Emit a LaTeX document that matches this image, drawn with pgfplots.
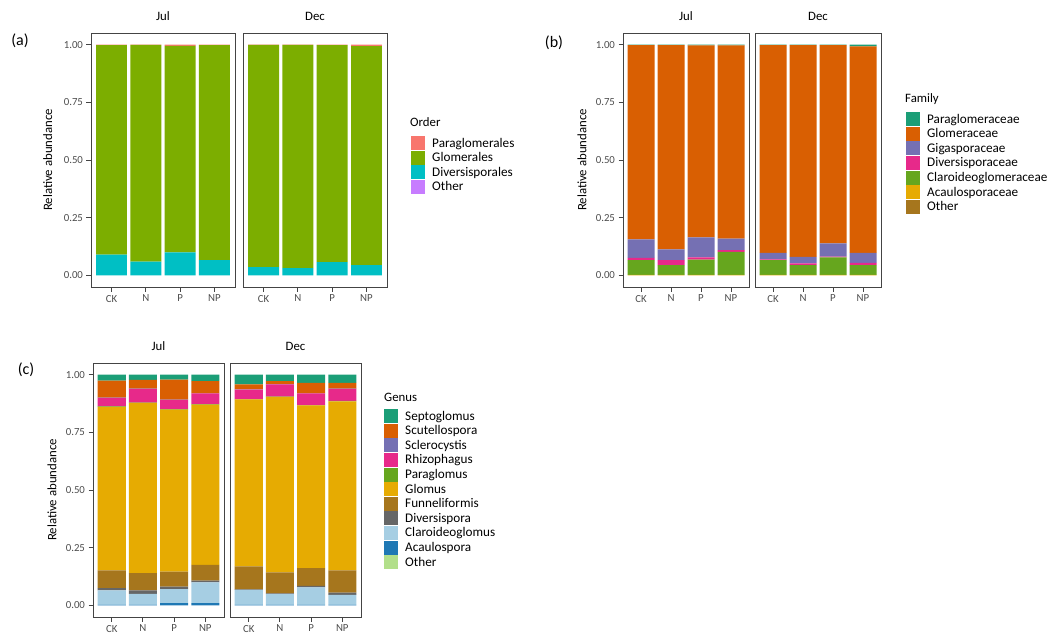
\documentclass[border=0pt]{standalone}
\usepackage{fontspec}
\setmainfont{Carlito}
\usepackage{pgfplots}
\usepackage{pgfplotstable}
\pgfplotsset{compat=1.18}

% ggplot default hue (4)
\definecolor{oPara}{HTML}{F8766D}
\definecolor{oGlom}{HTML}{7CAE00}
\definecolor{oDiv}{HTML}{00BFC4}
\definecolor{oOth}{HTML}{C77CFF}
% Dark2 / Paired
\definecolor{dTeal}{HTML}{1B9E77}
\definecolor{dOrange}{HTML}{D95F02}
\definecolor{dPurple}{HTML}{7570B3}
\definecolor{dPink}{HTML}{E7298A}
\definecolor{dGreen}{HTML}{66A61E}
\definecolor{dYellow}{HTML}{E6AB02}
\definecolor{dBrown}{HTML}{A6761D}
\definecolor{dGray}{HTML}{666666}
\definecolor{pLBlue}{HTML}{A6CEE3}
\definecolor{pBlue}{HTML}{1F78B4}
\definecolor{pLGreen}{HTML}{B2DF8A}
\definecolor{framec}{HTML}{444444}
\definecolor{tickc}{HTML}{4D4D4D}

% (a) Order
\pgfplotstableread{
x Other Div Glom Para
0 0 0.090 0.908 0.002
1 0 0.060 0.939 0.001
2 0 0.100 0.894 0.006
3 0 0.066 0.932 0.002
}\ajul
\pgfplotstableread{
x Other Div Glom Para
0 0 0.036 0.963 0.001
1 0 0.032 0.967 0.001
2 0 0.058 0.940 0.002
3 0 0.045 0.948 0.007
}\adec
% (b) Family
\pgfplotstableread{
x Other Acau Clar Dive Giga Glom Para
0 0 0.002 0.064 0.010 0.080 0.842 0.002
1 0 0.002 0.043 0.021 0.047 0.885 0.002
2 0 0.002 0.067 0.009 0.087 0.831 0.004
3 0 0.002 0.100 0.008 0.050 0.836 0.004
}\bjul
\pgfplotstableread{
x Other Acau Clar Dive Giga Glom Para
0 0 0.002 0.064 0.004 0.028 0.900 0.002
1 0 0.002 0.043 0.007 0.029 0.917 0.002
2 0 0.002 0.076 0.004 0.057 0.859 0.002
3 0 0.002 0.043 0.010 0.043 0.894 0.008
}\bdec
% (c) Genus
\pgfplotstableread{
x Oth Acau Clar Dive Funn Glom Parag Rhiz Scle Scut Sept
0 0 0.002 0.063 0.010 0.077 0.708 0.002 0.037 0.001 0.074 0.026
1 0 0.002 0.048 0.015 0.075 0.737 0.001 0.060 0.001 0.038 0.023
2 0 0.010 0.061 0.011 0.065 0.701 0.002 0.040 0.001 0.087 0.022
3 0 0.010 0.090 0.008 0.068 0.694 0.002 0.046 0.001 0.052 0.029
}\cjul
\pgfplotstableread{
x Oth Acau Clar Dive Funn Glom Parag Rhiz Scle Scut Sept
0 0 0.003 0.065 0.002 0.099 0.723 0.002 0.041 0.001 0.021 0.043
1 0 0.002 0.047 0.003 0.091 0.760 0.001 0.053 0.001 0.013 0.029
2 0 0.003 0.075 0.007 0.077 0.704 0.002 0.050 0.001 0.045 0.036
3 0 0.002 0.044 0.010 0.096 0.732 0.002 0.052 0.001 0.025 0.036
}\cdec

\pgfplotsset{
  facet/.style={
    scale only axis, height=254pt, anchor=south west,
    ybar stacked, bar width=0.9,
    xmin=-0.6, xmax=3.6, ymin=-0.05, ymax=1.05,
    xtick={0,1,2,3}, xticklabels={CK,N,P,NP},
    ytick={0,0.25,0.5,0.75,1},
    yticklabels={0.00,0.25,0.50,0.75,1.00},
    tick align=outside, tick pos=left,
    major tick length=4.5pt,
    axis line style={draw=framec, line width=0.9pt},
    every tick/.style={draw=framec, line width=0.9pt},
    tick label style={font=\fontsize{10.8}{12}\selectfont, text=tickc},
    title style={font=\fontsize{12.8}{14}\selectfont, at={(0.5,1)}, anchor=south, yshift=3pt},
    ylabel style={font=\fontsize{12.8}{14}\selectfont, anchor=center},
    legend cell align=left,
    legend style={draw=none, fill=none, inner sep=0pt, row sep=0.6pt,
      column sep=6pt, anchor=north west,
      font=\fontsize{13.2}{14}\selectfont,
      nodes={inner sep=1pt}},
    reverse legend,
    /pgf/number format/assume math mode=true,
  },
  nolab/.style={ytick=\empty},
  bk/.style={fill=#1, draw=none,
    legend image code/.code={\fill[fill=#1] (0pt,-7pt) rectangle (14pt,7pt);}},
}

\begin{document}
\begin{tikzpicture}[x=1pt,y=1pt]
\useasboundingbox (0pt,0pt) rectangle (1055pt,633pt);

% ---------------- (a)
\node[font=\fontsize{16}{18}\selectfont] at (20pt,592pt) {(a)};
\begin{axis}[facet, width=144pt, at={(91pt,346pt)}, title={Jul},
  ylabel={Relative abundance},
  ylabel style={at={(axis description cs:-0.30,0.5)}}]
\addplot[bk=oOth] table[x=x,y=Other]{\ajul};
\addplot[bk=oDiv] table[x=x,y=Div]{\ajul};
\addplot[bk=oGlom] table[x=x,y=Glom]{\ajul};
\addplot[bk=oPara] table[x=x,y=Para]{\ajul};
\end{axis}
\begin{axis}[facet, nolab, width=144pt, at={(243pt,346pt)}, title={Dec},
  legend style={at={(1.1667,0.5945)}}]
\addplot[bk=oOth] table[x=x,y=Other]{\adec};
\addplot[bk=oDiv] table[x=x,y=Div]{\adec};
\addplot[bk=oGlom] table[x=x,y=Glom]{\adec};
\addplot[bk=oPara] table[x=x,y=Para]{\adec};
\legend{Other,Diversisporales,Glomerales,Paraglomerales}
\end{axis}
\node[anchor=west, font=\fontsize{12.8}{14}\selectfont, inner sep=0pt] at (410pt,511pt) {Order};

% ---------------- (b)
\node[font=\fontsize{16}{18}\selectfont] at (554pt,590pt) {(b)};
\begin{axis}[facet, width=126pt, at={(623pt,346pt)}, title={Jul},
  ylabel={Relative abundance},
  ylabel style={at={(axis description cs:-0.325,0.5)}}]
\addplot[bk=dBrown] table[x=x,y=Other]{\bjul};
\addplot[bk=dYellow] table[x=x,y=Acau]{\bjul};
\addplot[bk=dGreen] table[x=x,y=Clar]{\bjul};
\addplot[bk=dPink] table[x=x,y=Dive]{\bjul};
\addplot[bk=dPurple] table[x=x,y=Giga]{\bjul};
\addplot[bk=dOrange] table[x=x,y=Glom]{\bjul};
\addplot[bk=dTeal] table[x=x,y=Para]{\bjul};
\end{axis}
\begin{axis}[facet, nolab, width=126pt, at={(755pt,346pt)}, title={Dec},
  legend style={at={(1.198,0.689)}}]
\addplot[bk=dBrown] table[x=x,y=Other]{\bdec};
\addplot[bk=dYellow] table[x=x,y=Acau]{\bdec};
\addplot[bk=dGreen] table[x=x,y=Clar]{\bdec};
\addplot[bk=dPink] table[x=x,y=Dive]{\bdec};
\addplot[bk=dPurple] table[x=x,y=Giga]{\bdec};
\addplot[bk=dOrange] table[x=x,y=Glom]{\bdec};
\addplot[bk=dTeal] table[x=x,y=Para]{\bdec};
\legend{Other,Acaulosporaceae,Claroideoglomeraceae,Diversisporaceae,Gigasporaceae,Glomeraceae,Paraglomeraceae}
\end{axis}
\node[anchor=west, font=\fontsize{12.8}{14}\selectfont, inner sep=0pt] at (905pt,534pt) {Family};

% ---------------- (c)
\node[font=\fontsize{16}{18}\selectfont] at (26pt,263pt) {(c)};
\begin{axis}[facet, width=131pt, at={(93pt,16pt)}, title={Jul},
  ylabel={Relative abundance},
  ylabel style={at={(axis description cs:-0.313,0.5)}}]
\addplot[bk=pLGreen] table[x=x,y=Oth]{\cjul};
\addplot[bk=pBlue] table[x=x,y=Acau]{\cjul};
\addplot[bk=pLBlue] table[x=x,y=Clar]{\cjul};
\addplot[bk=dGray] table[x=x,y=Dive]{\cjul};
\addplot[bk=dBrown] table[x=x,y=Funn]{\cjul};
\addplot[bk=dYellow] table[x=x,y=Glom]{\cjul};
\addplot[bk=dGreen] table[x=x,y=Parag]{\cjul};
\addplot[bk=dPink] table[x=x,y=Rhiz]{\cjul};
\addplot[bk=dPurple] table[x=x,y=Scle]{\cjul};
\addplot[bk=dOrange] table[x=x,y=Scut]{\cjul};
\addplot[bk=dTeal] table[x=x,y=Sept]{\cjul};
\end{axis}
\begin{axis}[facet, nolab, width=131pt, at={(230pt,16pt)}, title={Dec},
  legend style={at={(1.1756,0.819)}}]
\addplot[bk=pLGreen] table[x=x,y=Oth]{\cdec};
\addplot[bk=pBlue] table[x=x,y=Acau]{\cdec};
\addplot[bk=pLBlue] table[x=x,y=Clar]{\cdec};
\addplot[bk=dGray] table[x=x,y=Dive]{\cdec};
\addplot[bk=dBrown] table[x=x,y=Funn]{\cdec};
\addplot[bk=dYellow] table[x=x,y=Glom]{\cdec};
\addplot[bk=dGreen] table[x=x,y=Parag]{\cdec};
\addplot[bk=dPink] table[x=x,y=Rhiz]{\cdec};
\addplot[bk=dPurple] table[x=x,y=Scle]{\cdec};
\addplot[bk=dOrange] table[x=x,y=Scut]{\cdec};
\addplot[bk=dTeal] table[x=x,y=Sept]{\cdec};
\legend{Other,Acaulospora,Claroideoglomus,Diversispora,Funneliformis,Glomus,Paraglomus,Rhizophagus,Sclerocystis,Scutellospora,Septoglomus}
\end{axis}
\node[anchor=west, font=\fontsize{12.8}{14}\selectfont, inner sep=0pt] at (384pt,236pt) {Genus};
\end{tikzpicture}
\end{document}
